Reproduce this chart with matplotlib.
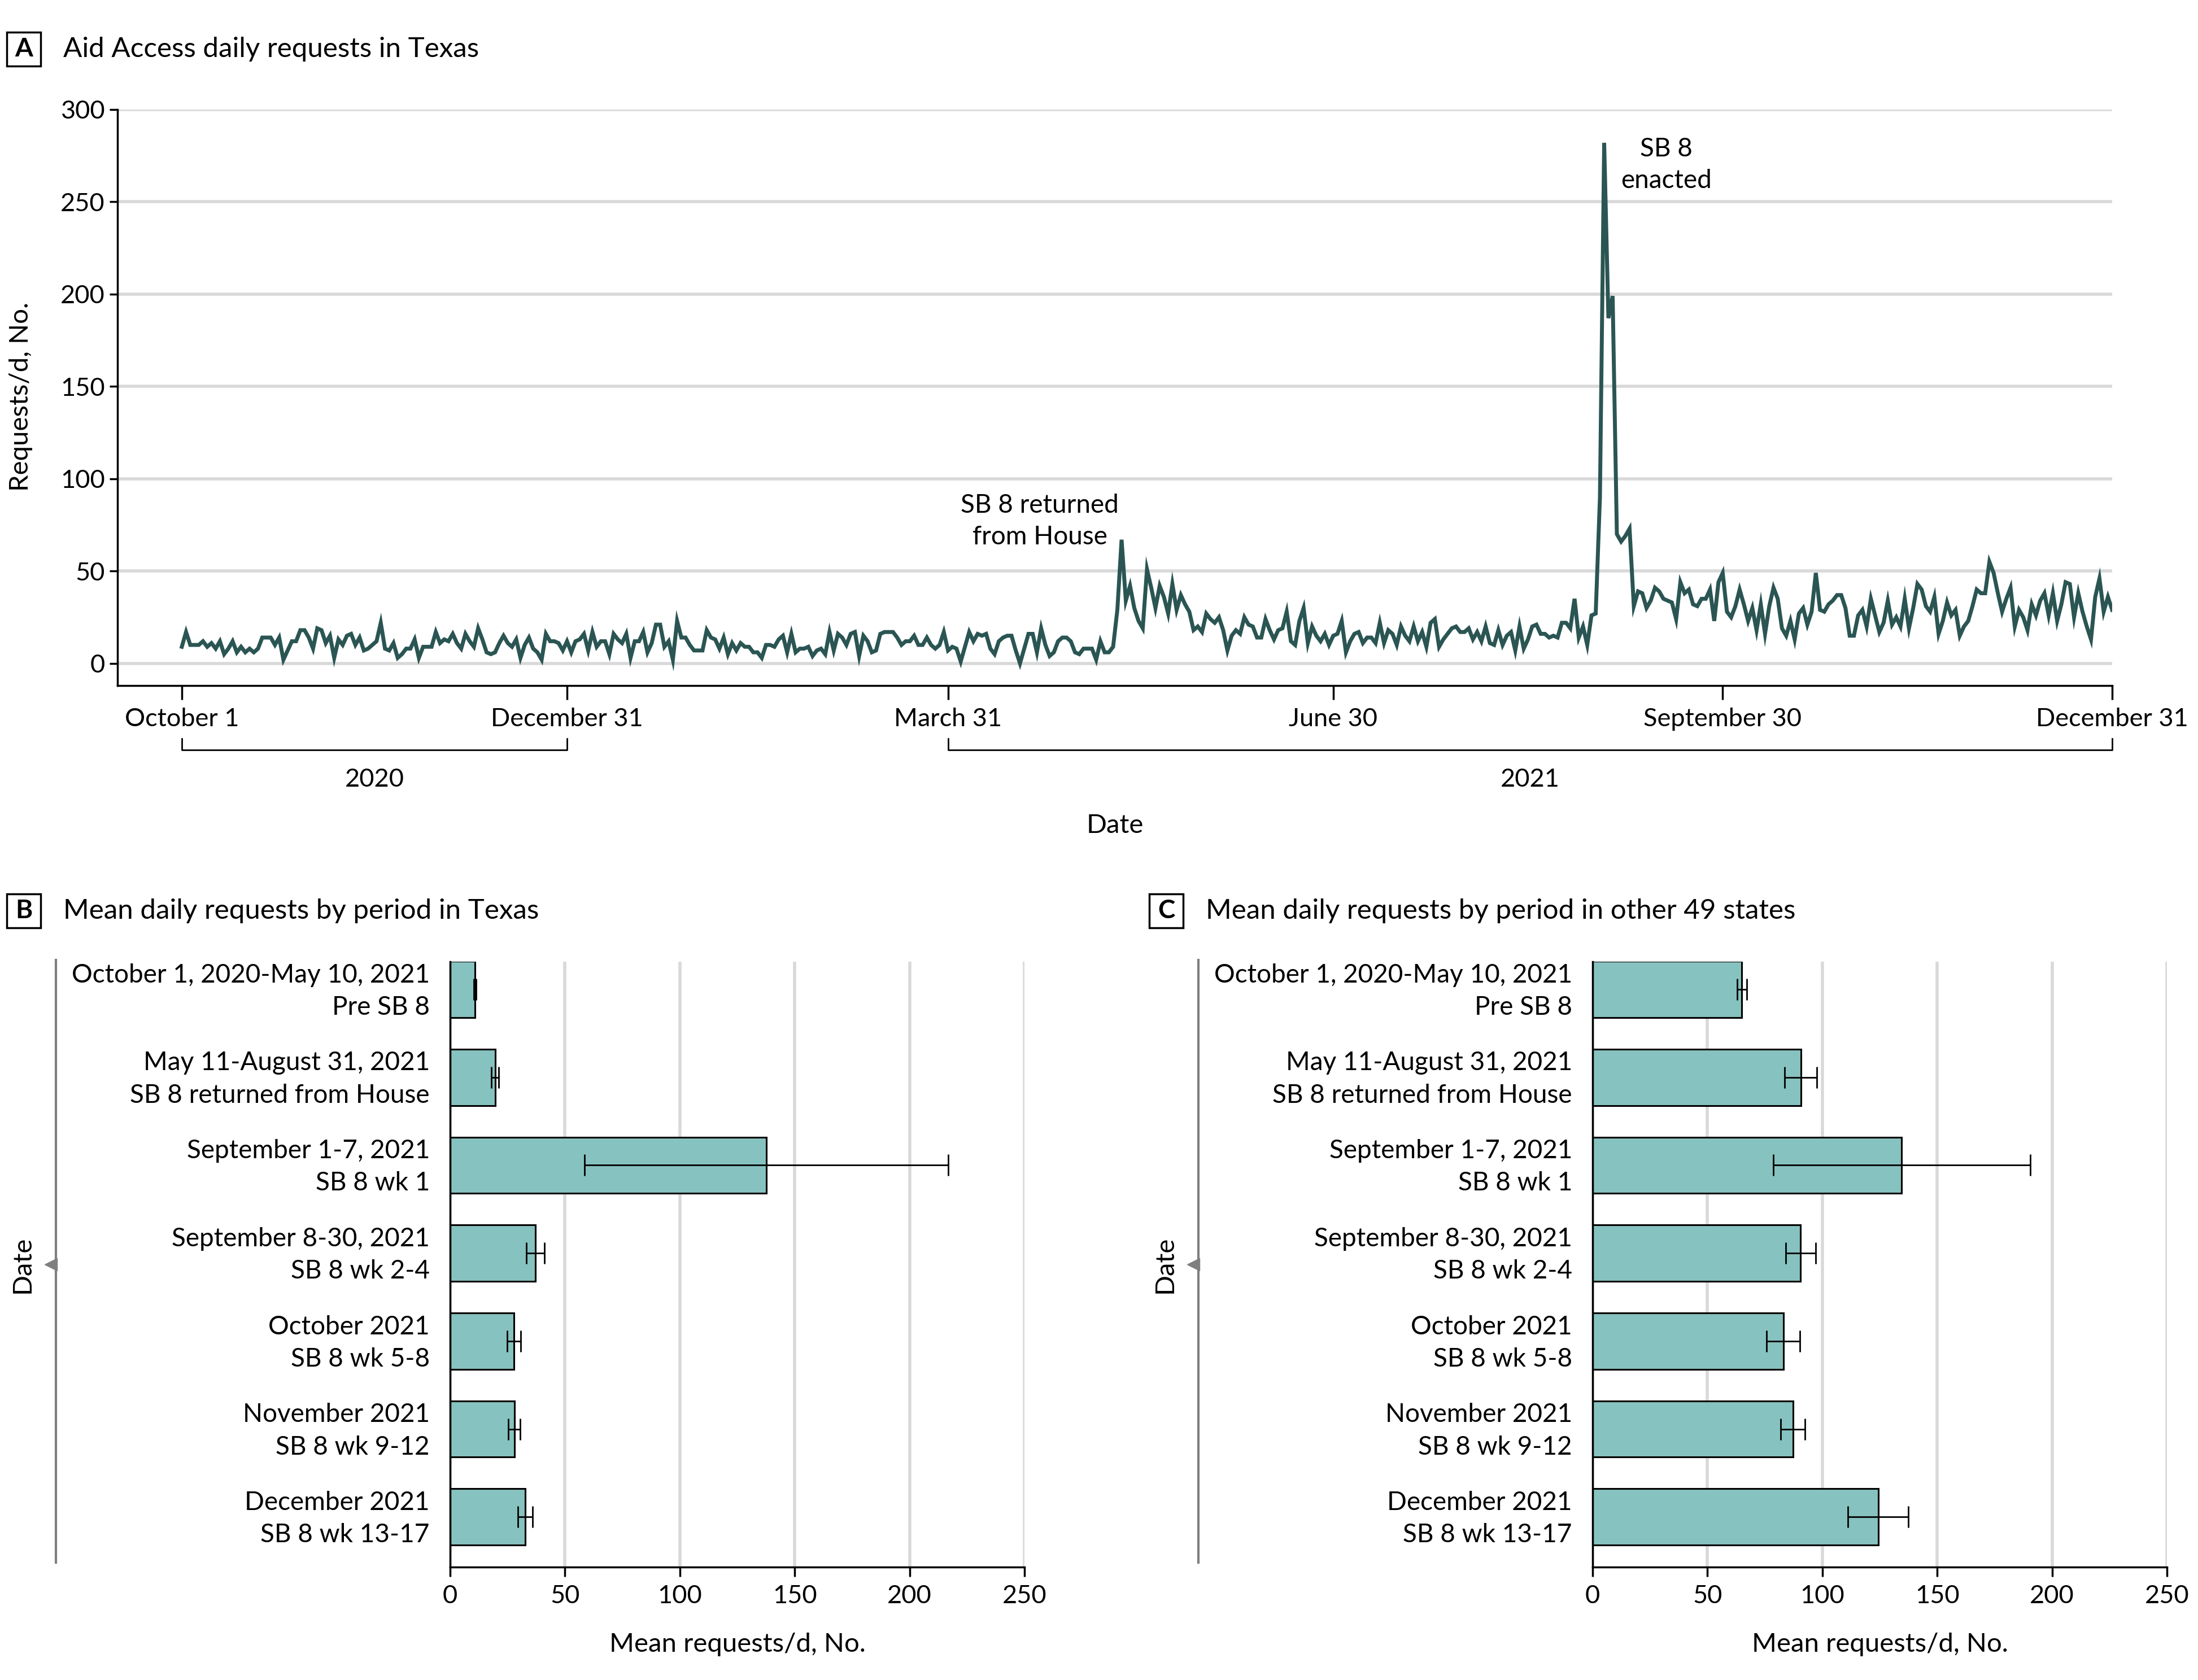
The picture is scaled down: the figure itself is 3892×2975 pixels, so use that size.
import matplotlib
matplotlib.use("Agg")
import matplotlib.pyplot as plt
import matplotlib.transforms as mtransforms
import numpy as np
import pandas as pd
from matplotlib import font_manager

# Daily Aid Access requests in Texas, one list per month
oct_2020 = [9, 17, 10, 10, 10, 12, 9, 11, 8, 12, 5, 8, 12, 6, 9, 6, 8, 6, 8, 14, 14, 14, 10, 14, 2, 7, 12, 12, 18, 18, 14]
nov_2020 = [8, 19, 18, 11, 15, 3, 13, 10, 15, 16, 10, 14, 7, 8, 10, 12, 22, 8, 7, 11, 3, 5, 8, 8, 13, 3, 9, 9, 9, 17]
dec_2020 = [11, 13, 12, 16, 11, 8, 16, 12, 9, 19, 13, 6, 5, 6, 11, 15, 11, 9, 13, 3, 10, 14, 8, 6, 2, 16, 12, 12, 11, 7, 12]
jan_2021 = [6, 12, 13, 16, 7, 17, 9, 12, 12, 5, 16, 13, 11, 16, 3, 12, 12, 17, 6, 11, 21, 21, 9, 12, 2, 23, 14, 14, 10, 7, 7]
feb_2021 = [7, 18, 14, 13, 8, 14, 5, 11, 7, 11, 9, 9, 6, 6, 3, 10, 10, 9, 13, 15, 6, 16, 6, 8, 8, 9, 4, 7]
mar_2021 = [8, 5, 17, 7, 16, 14, 10, 16, 17, 4, 15, 12, 6, 7, 16, 17, 17, 17, 14, 10, 12, 12, 15, 10, 10, 14, 10, 8, 10, 17, 7]
apr_2021 = [9, 8, 1, 9, 17, 12, 16, 15, 16, 8, 5, 12, 14, 15, 15, 7, 0, 8, 16, 16, 6, 19, 10, 4, 6, 12, 14, 14, 12, 6]
may_2021 = [5, 8, 8, 8, 2, 12, 6, 6, 9, 29, 67, 34, 42, 30, 23, 19, 51, 41, 30, 42, 36, 27, 43, 29, 37, 32, 28, 18, 20, 17, 27]
jun_2021 = [24, 22, 25, 18, 7, 15, 18, 16, 25, 21, 20, 14, 14, 24, 18, 13, 18, 19, 28, 12, 10, 23, 30, 11, 20, 15, 12, 16, 10, 15]
jul_2021 = [16, 23, 6, 12, 16, 17, 11, 14, 14, 11, 22, 11, 18, 16, 10, 20, 15, 12, 20, 12, 17, 9, 22, 24, 9, 13, 16, 19, 20, 17, 17]
aug_2021 = [19, 13, 17, 12, 20, 11, 10, 18, 10, 15, 17, 7, 20, 8, 13, 20, 21, 16, 16, 14, 15, 14, 22, 22, 19, 35, 14, 20, 10, 26, 27]
sep_2021 = [90, 282, 187, 199, 70, 66, 69, 73, 31, 39, 38, 30, 34, 41, 39, 35, 34, 33, 24, 44, 38, 40, 32, 31, 35, 35, 40, 23, 44, 49]
oct_2021 = [28, 25, 31, 40, 32, 23, 30, 18, 32, 16, 31, 41, 35, 19, 15, 23, 13, 27, 30, 21, 28, 49, 29, 28, 32, 34, 37, 37, 30, 15, 15]
nov_2021 = [26, 29, 20, 35, 26, 17, 22, 34, 21, 25, 20, 35, 19, 30, 43, 40, 31, 28, 36, 16, 23, 33, 26, 29, 15, 20, 23, 31, 40, 38]
dec_2021 = [38, 55, 49, 38, 28, 35, 41, 20, 29, 25, 18, 32, 26, 34, 38, 26, 38, 23, 32, 44, 43, 25, 38, 28, 20, 13, 36, 46, 28, 36, 29]

date_ticks = ["2020-10-01", "2020-12-31", "2021-03-31", "2021-06-30", "2021-09-30", "2021-12-31"]
date_tick_labels = ["October 1", "December 31", "March 31", "June 30", "September 30", "December 31"]

# Periods for panels B and C
periods = ["October 1, 2020-May 10, 2021\nPre SB 8",
           "May 11-August 31, 2021\nSB 8 returned from House",
           "September 1-7, 2021\nSB 8 wk 1",
           "September 8-30, 2021\nSB 8 wk 2-4",
           "October 2021\nSB 8 wk 5-8",
           "November 2021\nSB 8 wk 9-12",
           "December 2021\nSB 8 wk 13-17"]
texas_mean = [10.9, 19.7, 137.6, 37.0, 27.8, 28.0, 32.7]
texas_low = [10.4, 17.9, 58.5, 33.1, 24.8, 25.4, 29.5]
texas_high = [11.4, 21.2, 216.9, 41.0, 30.8, 30.5, 35.9]
other_mean = [65.0, 90.8, 134.5, 90.4, 83.0, 87.3, 124.3]
other_low = [63.0, 83.7, 78.7, 84.1, 75.7, 81.8, 111.2]
other_high = [67.1, 97.7, 190.4, 97.0, 90.1, 92.5, 137.3]

names = {f.name for f in font_manager.fontManager.ttflist}
FONT = "Lato" if "Lato" in names else "DejaVu Sans"
plt.rcParams["font.family"] = FONT

LINE = "#2a5553"
BAR = "#86c2bf"
GRID = "#d9d9d9"
W, H = 3892, 2975


def fx(px):
    return px / W


def fy(py):
    return 1 - py / H


def panel_title(letter, text, x0, y0):
    # square letter box, 60 px wide, top-left at (x0, y0)
    fig.add_artist(plt.Rectangle((fx(x0), fy(y0 + 60)), fx(60), 60 / H, fill=False,
                                 ec="black", lw=2.5, transform=fig.transFigure))
    fig.text(fx(x0 + 30), fy(y0 + 30), letter, fontsize=33, fontweight="bold",
             ha="center", va="center")
    fig.text(fx(x0 + 100), fy(y0 + 30), text, fontsize=35.5, ha="left", va="center")


fig = plt.figure(figsize=(W / 100, H / 100), dpi=100)

# ---- Panel A ----
daily = oct_2020 + nov_2020 + dec_2020 + jan_2021 + feb_2021 + mar_2021 + apr_2021 + \
    may_2021 + jun_2021 + jul_2021 + aug_2021 + sep_2021 + oct_2021 + nov_2021 + dec_2021
dates = pd.date_range("2020-10-01", periods=len(daily), freq="D")

axA = fig.add_axes([fx(208), fy(1214), fx(3740) - fx(208), fy(194) - fy(1214)])
axA.plot(dates, daily, color=LINE, lw=5, solid_joinstyle="miter")
axA.set_ylim(-12, 300)
axA.set_xlim(dates[0] - pd.Timedelta(days=15.2), dates[-1])
axA.set_yticks([0, 50, 100, 150, 200, 250, 300])
axA.yaxis.grid(True, color=GRID, lw=4)
axA.set_axisbelow(True)
tick_dates = pd.to_datetime(date_ticks)
axA.set_xticks(tick_dates)
axA.set_xticklabels(date_tick_labels)
for s in ["top", "right"]:
    axA.spines[s].set_visible(False)
axA.spines["left"].set_bounds(-12, 300)
axA.spines["left"].set_linewidth(2.5)
axA.spines["bottom"].set_linewidth(2.5)
axA.tick_params(axis="both", labelsize=32.5, width=2.5, length=18, pad=10)
axA.tick_params(axis="y", length=10, pad=6)
axA.set_xlabel("Date", fontsize=34, labelpad=106)
fig.text(fx(37), fy(702), "Requests/d, No.", rotation=90, fontsize=34, ha="center", va="center")

# year brackets below date axis
trans = mtransforms.blended_transform_factory(axA.transData, axA.transAxes)
for x0, x1, label in [(tick_dates[0], tick_dates[1], "2020"), (tick_dates[2], tick_dates[5], "2021")]:
    axA.plot([x0, x0, x1, x1], [-0.092, -0.112, -0.112, -0.092], color="black", lw=2,
             transform=trans, clip_on=False)
    mid = x0 + (x1 - x0) / 2
    axA.text(mid, -0.163, label, transform=trans, fontsize=32.5, ha="center", va="center")

axA.text(dates[0] + pd.Timedelta(days=202.7), 77, "SB 8 returned\nfrom House", fontsize=33,
         ha="center", va="center", linespacing=1.4)
axA.text(dates[0] + pd.Timedelta(days=350.7), 270, "SB 8\nenacted", fontsize=33,
         ha="center", va="center", linespacing=1.4)

panel_title("A", "Aid Access daily requests in Texas", 12, 57)


# ---- Panels B and C ----
def bar_panel(left_px, means, lows, highs, letter, title, bracket_x, box_x):
    ax = fig.add_axes([fx(left_px), fy(2775), fx(1017), fy(1703) - fy(2775)])
    ypos = np.arange(len(periods))
    means = np.array(means)
    err = [means - np.array(lows), np.array(highs) - means]
    ax.barh(ypos, means, height=0.64, color=BAR, edgecolor="black", lw=2.2, zorder=2)
    ax.errorbar(means, ypos, xerr=err, fmt="none", ecolor="black", elinewidth=2, capsize=14,
                capthick=2, zorder=3)
    ax.set_xlim(0, 250)
    ax.set_ylim(6.57, -0.315)
    ax.set_xticks([0, 50, 100, 150, 200, 250])
    ax.xaxis.grid(True, color=GRID, lw=4)
    ax.set_axisbelow(True)
    ax.set_yticks(ypos)
    ax.set_yticklabels(periods, linespacing=1.45)
    for s in ["top", "right"]:
        ax.spines[s].set_visible(False)
    ax.spines["left"].set_linewidth(2.5)
    ax.spines["bottom"].set_linewidth(2.5)
    ax.tick_params(axis="y", length=0, pad=26, labelsize=33)
    ax.tick_params(axis="x", length=12, width=2.5, pad=10, labelsize=32.5)
    ax.set_xlabel("Mean requests/d, No.", fontsize=34, labelpad=32)
    # nudge the two-line period labels up a little
    shift = mtransforms.ScaledTranslation(0, 6 / 72, fig.dpi_scale_trans)
    for lab in ax.get_yticklabels():
        lab.set_transform(lab.get_transform() + shift)
    # Date bracket on the far left
    fig.add_artist(plt.Line2D([fx(bracket_x), fx(bracket_x)], [fy(1700), fy(2767)],
                              color="#7f7f7f", lw=3))
    fig.add_artist(plt.Line2D([fx(bracket_x - 9)], [fy(2239)], marker="<", ms=16,
                              color="#7f7f7f", mec="#7f7f7f"))
    fig.text(fx(bracket_x - 59), fy(2239), "Date", rotation=90, fontsize=34,
             ha="center", va="center")
    panel_title(letter, title, box_x, 1583)
    return ax


bar_panel(797, texas_mean, texas_low, texas_high, "B",
          "Mean daily requests by period in Texas", 99, 12)
bar_panel(2820, other_mean, other_low, other_high, "C",
          "Mean daily requests by period in other 49 states", 2122, 2035)

fig.savefig("out.png", dpi=100)
